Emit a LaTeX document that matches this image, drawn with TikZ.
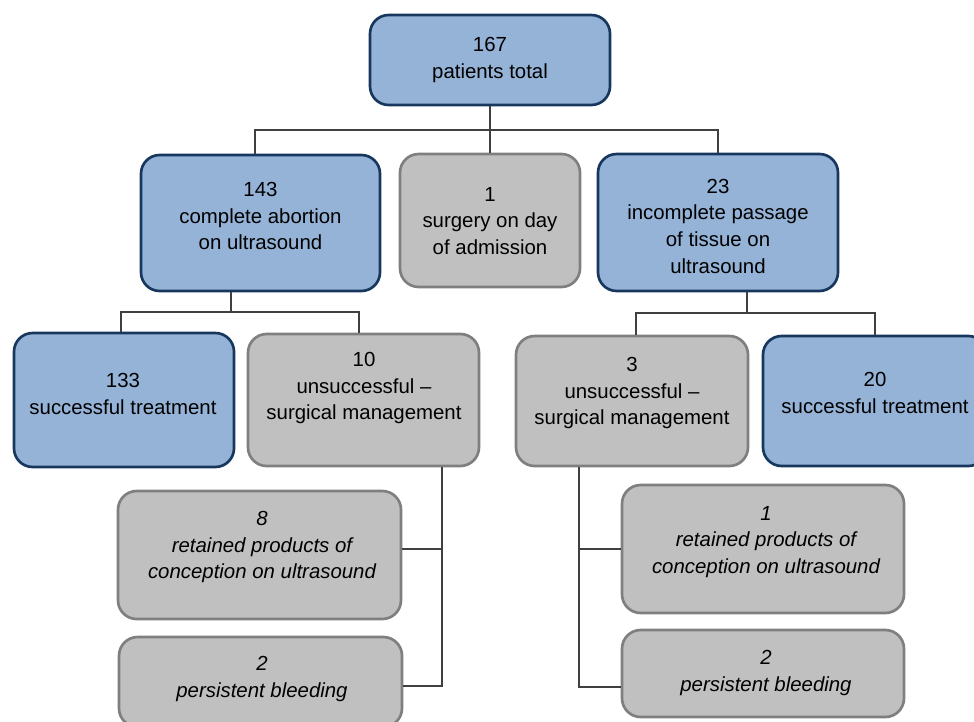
\documentclass[tikz,border=0pt]{standalone}
\usepackage{fontspec}
\setmainfont{Liberation Sans}
\usetikzlibrary{calc}
\definecolor{boxblue}{HTML}{95B3D7}
\definecolor{edgeblue}{HTML}{17375E}
\definecolor{boxgray}{HTML}{C0C0C0}
\definecolor{edgegray}{HTML}{7F7F7F}
\definecolor{linkgray}{HTML}{404040}
\begin{document}
\begin{tikzpicture}[x=0.75pt,y=-0.75pt,
  boxbase/.style={rectangle, rounded corners=14pt, line width=2pt, inner sep=0pt},
  bluebox/.style={boxbase, fill=boxblue, draw=edgeblue},
  graybox/.style={boxbase, fill=boxgray, draw=edgegray},
  sz/.style 2 args={minimum width=#1*0.75pt, minimum height=#2*0.75pt},
  lbl/.style={align=center, font=\fontsize{15.3}{20}\selectfont, inner sep=0pt},
  ilbl/.style={align=center, font=\fontsize{15.3}{20}\selectfont\itshape, inner sep=0pt},
  link/.style={draw=linkgray, line width=0.9pt}]
\useasboundingbox (0,0) rectangle (974,721);
\clip (0,0) rectangle (974,721);

% boxes
\node[bluebox, sz={240}{90}]  (top)  at (490,60) {};
\node[bluebox, sz={239}{136}] (n143) at (260.5,223) {};
\node[graybox, sz={180}{133}] (n1)   at (490,220.5) {};
\node[bluebox, sz={240}{137}] (n23)  at (718,222.5) {};
\node[bluebox, sz={220}{134}] (n133) at (124,400) {};
\node[graybox, sz={231}{132}] (n10)  at (363.5,400) {};
\node[graybox, sz={232}{130}] (n3)   at (632,401) {};
\node[bluebox, sz={224}{130}] (n20)  at (875,401) {};
\node[graybox, sz={283}{128}] (n8)   at (259.5,555) {};
\node[graybox, sz={283}{90}]  (n2L)  at (260.5,682) {};
\node[graybox, sz={282}{128}] (n1R)  at (763,549) {};
\node[graybox, sz={282}{87}]  (n2R)  at (763,673.5) {};

% labels
\node[lbl] (t-top)  at (490,60)  {167\\patients total};
\node[lbl] (t-143)  at (260.5,216) {143\\complete abortion\\on ultrasound};
\node[lbl] (t-1)    at (490,221) {1\\surgery on day\\of admission};
\node[lbl] (t-23)   at (718,226) {23\\incomplete passage\\of tissue on\\ultrasound};
\node[lbl] (t-133)  at (123,394) {133\\successful treatment};
\node[lbl] (t-10)   at (364,388) {10\\unsuccessful --\\surgical management};
\node[lbl] (t-3)    at (632,393) {3\\unsuccessful --\\surgical management};
\node[lbl] (t-20)   at (875,393) {20\\successful treatment};
\node[ilbl] (t-8)   at (262,547) {8\\retained products of\\conception on ultrasound};
\node[ilbl] (t-2L)  at (262,679) {2\\persistent bleeding};
\node[ilbl] (t-1R)  at (766,542) {1\\retained products of\\conception on ultrasound};
\node[ilbl] (t-2R)  at (766,673) {2\\persistent bleeding};

% junctions
\coordinate (j1) at (490,130);
\coordinate (j2) at (231,312);
\coordinate (j3) at (747,313);
\coordinate (k1) at (442,549);
\coordinate (k2) at (442,686);
\coordinate (m1) at (579,549);
\coordinate (m2) at (579,687);

% connectors
\path[link] (top.south) -- (n1.north);
\path[link] ([xshift=-4.1pt]n143.north) |- (j1) -| (n23.north);
\path[link] (j2 |- n143.south) -- (j2);
\path[link] ([xshift=-2.2pt]n133.north) |- (j2) -| ([xshift=-3.4pt]n10.north);
\path[link] (j3 |- n23.south) -- (j3);
\path[link] ([xshift=3pt]n3.north) |- (j3) -| (n20.north);
\path[link] (k1 |- n10.south) -- (k2) -- (k2 -| n2L.east);
\path[link] (k1) -- (k1 -| n8.east);
\path[link] (m1 |- n3.south) -- (m2) -- (m2 -| n2R.west);
\path[link] (m1) -- (m1 -| n1R.west);
\end{tikzpicture}
\end{document}
